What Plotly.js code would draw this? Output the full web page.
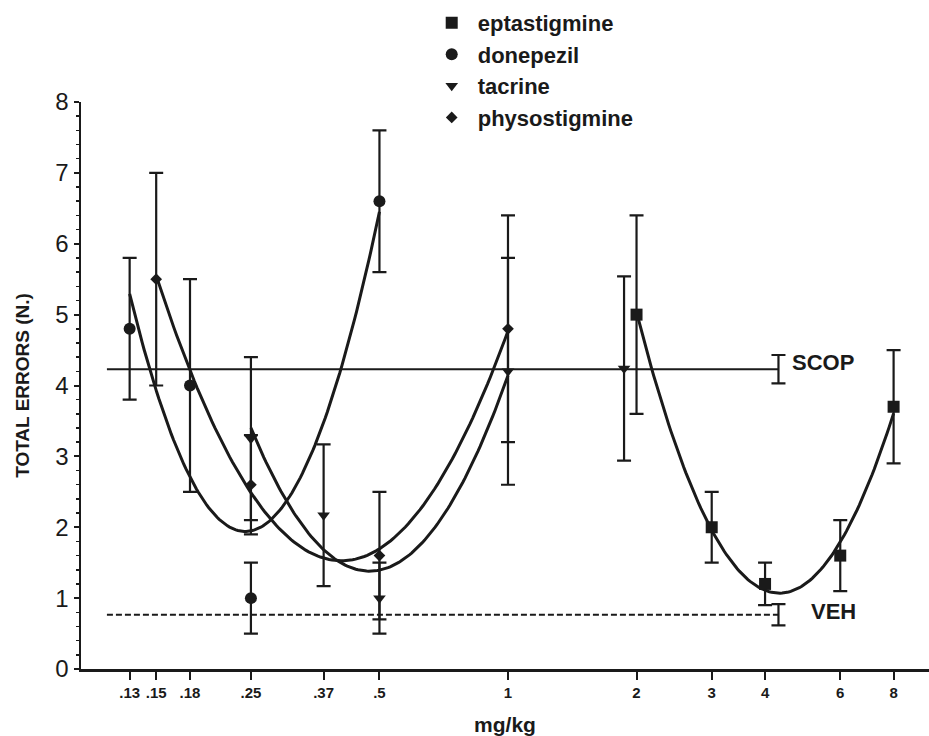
<!DOCTYPE html>
<html><head><meta charset="utf-8">
<script src="https://cdn.plot.ly/plotly-3.0.1.min.js"></script>
<style>html,body{margin:0;padding:0;background:#fff}#chart{width:929px;height:736px}</style>
</head><body><div id="chart"></div>
<script>
// ---- data ----
const seriesNames = ['eptastigmine', 'donepezil', 'tacrine', 'physostigmine'];
const seriesSymbols = ['square', 'circle', 'triangle-down', 'diamond'];

const eptaDose = [2, 3, 4, 6, 8];
const eptaMean = [5.0, 2.0, 1.2, 1.6, 3.7];
const eptaSem  = [1.4, 0.5, 0.3, 0.5, 0.8];

const donDose = [0.13, 0.18, 0.25, 0.5];
const donMean = [4.8, 4.0, 1.0, 6.6];
const donSem  = [1.0, 1.5, 0.5, 1.0];

const tacDose = [0.25, 0.37, 0.5, 1];
const tacMean = [3.25, 2.17, 1.0, 4.2];
const tacSem  = [1.15, 1.0, 0.5, 1.6];
const tacExtraDose = [1.87];
const tacExtraMean = [4.24];
const tacExtraSem  = [1.3];

const phyDose = [0.15, 0.25, 0.5, 1];
const phyMean = [5.5, 2.6, 1.6, 4.8];
const phySem  = [1.5, 0.7, 0.9, 1.6];

const refNames = ['SCOP', 'VEH'];
const refMean  = [4.23, 0.765];
const refSem   = [0.2, 0.15];
const refDoseRange = [0.115, 4.3];

const tickVals = [0.13, 0.15, 0.18, 0.25, 0.37, 0.5, 1, 2, 3, 4, 6, 8];
const tickText = ['.13', '.15', '.18', '.25', '.37', '.5', '1', '2', '3', '4', '6', '8'];

// ---- least-squares quadratic fit in log10(dose), as in the original figure ----
function quadFit(dose, mean) {
  const u = dose.map(d => Math.log10(d));
  const n = u.length;
  let S = [0, 0, 0, 0, 0], T = [0, 0, 0];
  for (let i = 0; i < n; i++) {
    let p = 1;
    for (let k = 0; k < 5; k++) { S[k] += p; if (k < 3) T[k] += p * mean[i]; p *= u[i]; }
  }
  const A = [[S[0], S[1], S[2], T[0]], [S[1], S[2], S[3], T[1]], [S[2], S[3], S[4], T[2]]];
  for (let c = 0; c < 3; c++) {
    for (let r = c + 1; r < 3; r++) {
      const f = A[r][c] / A[c][c];
      for (let k = c; k < 4; k++) A[r][k] -= f * A[c][k];
    }
  }
  const b = [0, 0, 0];
  for (let r = 2; r >= 0; r--) {
    let s = A[r][3];
    for (let k = r + 1; k < 3; k++) s -= A[r][k] * b[k];
    b[r] = s / A[r][r];
  }
  const lo = Math.log10(Math.min(...dose)), hi = Math.log10(Math.max(...dose));
  const xs = [], ys = [];
  const N = 120;
  for (let i = 0; i <= N; i++) {
    const uu = lo + (hi - lo) * i / N;
    xs.push(Math.pow(10, uu));
    ys.push(b[0] + b[1] * uu + b[2] * uu * uu);
  }
  return {x: xs, y: ys};
}

const INK = '#1a1a1a';
const FONT = '"Liberation Sans", Arial, Helvetica, sans-serif';

function pointTrace(name, sym, size, dose, mean, sem, showlegend, legendrank) {
  return {
    type: 'scatter', mode: 'markers', name: name, x: dose, y: mean,
    showlegend: showlegend, legendrank: legendrank, legendgroup: name,
    marker: {symbol: sym, size: size, color: INK, line: {width: 0}},
    error_y: {type: 'data', array: sem, visible: true, color: INK, thickness: 2.2, width: 7},
    cliponaxis: false
  };
}
function fitTrace(dose, mean) {
  const f = quadFit(dose, mean);
  return {type: 'scatter', mode: 'lines', x: f.x, y: f.y, showlegend: false,
          line: {color: INK, width: 3, shape: 'linear'}, hoverinfo: 'skip'};
}

const traces = [];
// fitted curves
traces.push(fitTrace(eptaDose, eptaMean));
traces.push(fitTrace(donDose, donMean));
traces.push(fitTrace(tacDose, tacMean));
traces.push(fitTrace(phyDose, phyMean));
// reference lines (SCOP solid, VEH dashed)
traces.push({type: 'scatter', mode: 'lines', x: refDoseRange, y: [refMean[0], refMean[0]], showlegend: false,
             line: {color: INK, width: 2}, hoverinfo: 'skip'});
traces.push({type: 'scatter', mode: 'lines', x: refDoseRange, y: [refMean[1], refMean[1]], showlegend: false,
             line: {color: INK, width: 2, dash: '6px,3px'}, hoverinfo: 'skip'});
traces.push({type: 'scatter', mode: 'markers', x: [refDoseRange[1], refDoseRange[1]], y: refMean, showlegend: false,
             marker: {size: 1, opacity: 0}, error_y: {type: 'data', array: refSem, color: INK, thickness: 2.2, width: 7},
             hoverinfo: 'skip'});
// data points
traces.push(pointTrace(seriesNames[0], seriesSymbols[0], 12, eptaDose, eptaMean, eptaSem, true, 1));
traces.push(pointTrace(seriesNames[1], seriesSymbols[1], 12, donDose, donMean, donSem, true, 2));
traces.push(pointTrace(seriesNames[2], seriesSymbols[2], 11, tacDose, tacMean, tacSem, true, 3));
traces.push(pointTrace(seriesNames[2], seriesSymbols[2], 11, tacExtraDose, tacExtraMean, tacExtraSem, false, 3));
traces.push(pointTrace(seriesNames[3], seriesSymbols[3], 9, phyDose, phyMean, phySem, true, 4));

const layout = {
  width: 929, height: 736,
  margin: {l: 81, r: 0, t: 102, b: 67, pad: 0},
  paper_bgcolor: '#ffffff', plot_bgcolor: '#ffffff',
  font: {family: FONT, color: INK},
  showlegend: true,
  legend: {
    x: 0.4065, y: 1.1766, xanchor: 'left', yanchor: 'top',
    font: {family: FONT, size: 22, color: INK, weight: 'bold'},
    itemwidth: 42, bgcolor: 'rgba(0,0,0,0)', borderwidth: 0, tracegroupgap: 0,
    traceorder: 'normal'
  },
  xaxis: {
    type: 'log', range: [-1, 0.986],
    tickmode: 'array', tickvals: tickVals, ticktext: tickText,
    ticks: 'outside', ticklen: 8, tickwidth: 2, tickcolor: INK,
    showline: true, linewidth: 2.5, linecolor: INK, mirror: false,
    showgrid: false, zeroline: false,
    tickfont: {family: '"Liberation Sans Narrow", "Arial Narrow", ' + FONT, size: 15, color: INK, weight: 'bold'},
    title: {text: 'mg/kg', font: {family: FONT, size: 21, color: INK, weight: 'bold'}, standoff: 21}
  },
  yaxis: {
    range: [0, 8], tick0: 0, dtick: 1,
    ticks: 'outside', ticklen: 5, tickwidth: 2, tickcolor: INK,
    minor: {dtick: 0.2, ticks: 'outside', ticklen: 3, tickwidth: 1.5, tickcolor: INK, showgrid: false},
    showline: true, linewidth: 2.5, linecolor: INK,
    showgrid: false, zeroline: false,
    tickfont: {family: FONT, size: 24, color: INK},
    title: {text: 'TOTAL ERRORS (N.)', font: {family: FONT, size: 19, color: INK, weight: 'bold'}, standoff: 21}
  },
  annotations: [
    {xref: 'paper', yref: 'y', x: 0.836, y: 4.33, xanchor: 'left', yanchor: 'middle', showarrow: false,
     text: refNames[0], font: {family: FONT, size: 22, color: INK, weight: 'bold'}},
    {xref: 'paper', yref: 'y', x: 0.859, y: 0.81, xanchor: 'left', yanchor: 'middle', showarrow: false,
     text: refNames[1], font: {family: FONT, size: 22, color: INK, weight: 'bold'}}
  ]
};

Plotly.newPlot('chart', traces, layout, {displayModeBar: false, staticPlot: true});
</script>
</body></html>
